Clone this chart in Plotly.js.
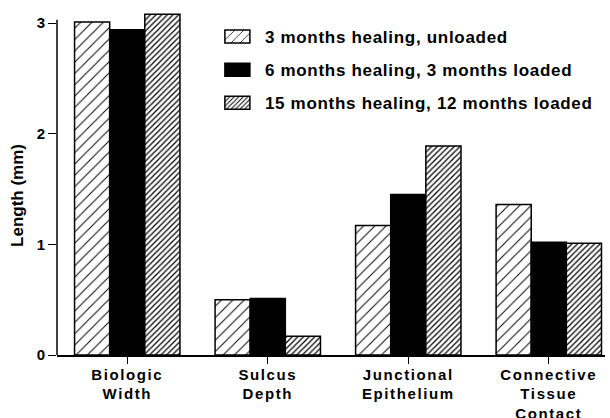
<!DOCTYPE html>
<html>
<head>
<meta charset="utf-8">
<script src="https://cdn.plot.ly/plotly-3.0.1.min.js"></script>
<style>
html,body{margin:0;padding:0;background:#fff;}
#chart{width:610px;height:418px;}
.legend text.legendtext{letter-spacing:0.7px;}
.xtick text{letter-spacing:1.6px;}
.g-ytitle{transform:translateY(12px);}
</style>
</head>
<body>
<div id="chart"></div>
<script>
var categories = ["Biologic<br>Width", "Sulcus<br>Depth", "Junctional<br>Epithelium", "Connective<br>Tissue<br>Contact"];
var seriesNames = ["3 months healing, unloaded", "6 months healing, 3 months loaded", "15 months healing, 12 months loaded"];
var unloaded3 = [3.01, 0.50, 1.17, 1.36];
var loaded6 = [2.94, 0.51, 1.45, 1.02];
var loaded15 = [3.08, 0.17, 1.89, 1.01];
var yTickVals = [0, 1, 2, 3];
var yAxisTop = 3.03;

var FONT = "'Liberation Sans', Arial, Helvetica, sans-serif";
var line = {color: "#000", width: 1.5};

var traces = [
  {type: "bar", x: categories, y: unloaded3, name: seriesNames[0], legendgroup: "a",
   marker: {color: "#fff", line: line, pattern: {shape: "/", size: 8, solidity: 0.12, fgcolor: "#000", bgcolor: "#fff"}}},
  {type: "bar", x: categories, y: loaded6, name: seriesNames[1], legendgroup: "b",
   marker: {color: "#000", line: line}},
  {type: "bar", x: categories, y: loaded15, name: seriesNames[2], legendgroup: "c",
   marker: {color: "#fff", line: line, pattern: {shape: "/", size: 4, solidity: 0.3, fgcolor: "#000", bgcolor: "#fff"}}}
];

var layout = {
  width: 610, height: 418,
  margin: {l: 57, r: 5, t: 12, b: 63},
  paper_bgcolor: "#fff", plot_bgcolor: "#fff",
  barmode: "group", bargap: 0.25, bargroupgap: 0,
  font: {family: FONT, color: "#000", size: 15},
  showlegend: true,
  legend: {x: 0.279, y: 0.9796, xanchor: "left", yanchor: "top", bgcolor: "rgba(0,0,0,0)",
           font: {family: FONT, size: 17, weight: "bold", color: "#000"},
           traceorder: "grouped", tracegroupgap: 8, itemwidth: 45},
  xaxis: {range: [-0.5, 3.4], showline: true, linecolor: "#000", linewidth: 1.5,
          ticks: "outside", ticklen: 7, tickcolor: "#000", tickwidth: 1, ticklabelstandoff: -2,
          tickfont: {family: FONT, size: 15, weight: "bold", color: "#000"},
          showgrid: false, zeroline: false, fixedrange: true},
  yaxis: {range: [0, 3.1], showline: false,
          ticks: "outside", ticklen: 8, tickcolor: "#000", tickwidth: 1,
          tickvals: yTickVals, ticktext: yTickVals.map(String),
          tickfont: {family: FONT, size: 15, weight: "bold", color: "#000"},
          showgrid: false, zeroline: false,
          title: {text: "Length (mm)", standoff: 8, font: {family: FONT, size: 17, weight: "bold", color: "#000"}}},
  shapes: [{type: "line", xref: "paper", yref: "y", x0: 0, x1: 0, y0: 0, y1: yAxisTop,
            line: {color: "#000", width: 1.5}, layer: "above"}]
};

Plotly.newPlot("chart", traces, layout, {displayModeBar: false, staticPlot: true}).then(function (gd) {
  gd.querySelectorAll(".legend .legendpoints path").forEach(function (p) {
    p.setAttribute("d", "M12.5,6.5H-12.5V-6.5H12.5Z");
  });
  gd.querySelectorAll(".legend [clip-path]").forEach(function (el) {
    el.removeAttribute("clip-path");
  });
});
</script>
</body>
</html>
